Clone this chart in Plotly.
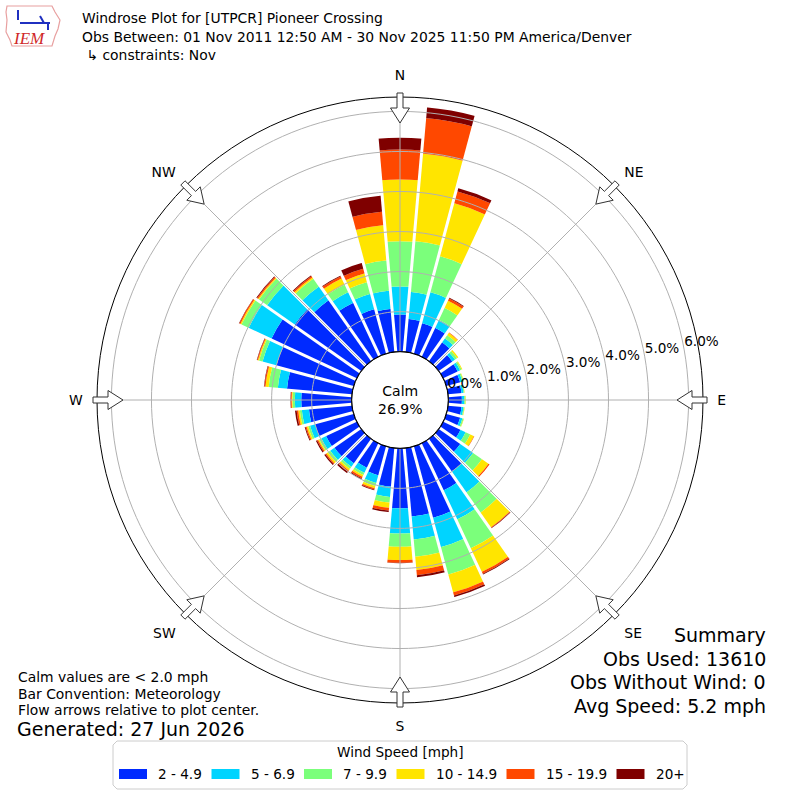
import math
import plotly.graph_objects as go

# wind directions (deg, meteorological) and speed bins
directions = list(range(0, 360, 10))
speed_bins = ["2 - 4.9", "5 - 6.9", "7 - 9.9", "10 - 14.9", "15 - 19.9", "20+"]
bin_colors = ["#002aff", "#00d4ff", "#7bff7b", "#ffe500", "#ff4800", "#7f0000"]

# frequency (%) per direction for each speed bin
pct_2_5 = [0.93, 0.83, 0.79, 0.80, 0.58, 0.42, 0.40, 0.36, 0.34, 0.34, 0.34, 0.36,
           0.48, 0.66, 1.00, 1.30, 1.85, 1.72, 1.50, 0.97, 0.75, 0.68, 0.75, 0.82,
           0.85, 1.00, 1.08, 1.26, 1.63, 2.00, 2.35, 2.03, 1.86, 1.49, 1.15, 1.08]
pct_5_7 = [0.70, 0.68, 0.80, 0.22, 0.12, 0.08, 0.07, 0.06, 0.05, 0.06, 0.05, 0.06,
           0.14, 0.39, 0.64, 0.80, 0.76, 0.58, 0.63, 0.26, 0.20, 0.14, 0.11, 0.13,
           0.13, 0.13, 0.18, 0.16, 0.23, 0.36, 0.63, 0.84, 0.42, 0.29, 0.40, 0.46]
pct_7_10 = [1.13, 1.27, 0.93, 0.33, 0.10, 0.06, 0.04, 0.03, 0.02, 0.03, 0.02, 0.03,
            0.13, 0.27, 0.61, 0.80, 0.71, 0.43, 0.33, 0.14, 0.08, 0.06, 0.06, 0.07,
            0.06, 0.05, 0.05, 0.06, 0.23, 0.09, 0.20, 0.25, 0.24, 0.21, 0.30, 0.76]
pct_10_15 = [1.54, 2.19, 1.37, 0.20, 0.07, 0.04, 0.02, 0.01, 0.01, 0.01, 0.01, 0.01,
             0.10, 0.20, 0.45, 0.65, 0.46, 0.33, 0.33, 0.13, 0.06, 0.05, 0.05, 0.05,
             0.03, 0.04, 0.04, 0.02, 0.08, 0.03, 0.03, 0.03, 0.04, 0.17, 0.23, 0.88]
pct_15_20 = [0.75, 0.89, 0.31, 0.06, 0.01, 0.00, 0.00, 0.00, 0.00, 0.00, 0.00, 0.00,
             0.01, 0.03, 0.02, 0.05, 0.08, 0.13, 0.07, 0.07, 0.03, 0.04, 0.04, 0.03,
             0.03, 0.03, 0.04, 0.02, 0.03, 0.02, 0.03, 0.03, 0.04, 0.06, 0.12, 0.34]
pct_20_up = [0.29, 0.27, 0.08, 0.02, 0.00, 0.00, 0.00, 0.00, 0.00, 0.00, 0.00, 0.00,
             0.00, 0.00, 0.01, 0.02, 0.04, 0.05, 0.01, 0.04, 0.02, 0.03, 0.04, 0.03,
             0.03, 0.02, 0.04, 0.01, 0.01, 0.01, 0.01, 0.02, 0.02, 0.02, 0.15, 0.40]

calm_pct = 26.9
radial_ticks = [0, 1, 2, 3, 4, 5, 6]
compass_angles = [0, 45, 90, 135, 180, 225, 270, 315]
compass_labels = ["N", "NE", "E", "SE", "S", "SW", "W", "NW"]

title_lines = ["Windrose Plot for [UTPCR] Pioneer Crossing",
               "Obs Between: 01 Nov 2011 12:50 AM - 30 Nov 2025 11:50 PM America/Denver",
               " \u21b3 constraints: Nov"]
note_lines = ["Calm values are < 2.0 mph", "Bar Convention: Meteorology",
              "Flow arrows relative to plot center."]
generated = "Generated: 27 Jun 2026"
summary_lines = ["Summary", "Obs Used: 13610", "Obs Without Wind: 0", "Avg Speed: 5.2 mph"]

series = [pct_2_5, pct_5_7, pct_7_10, pct_10_15, pct_15_20, pct_20_up]

R_MAX = 6.36
FONT = "DejaVu Sans"
W = 800.0
RADIUS_PX = 303.0


def px(x, y):
    return x / W, 1 - y / W


def text_note(x, y, text, size, xanchor='left', family=FONT, color='black'):
    X, Y = px(x, y)
    return dict(x=X, y=Y, xref='paper', yref='paper', showarrow=False,
                xanchor=xanchor, yanchor='middle', text=text,
                font=dict(family=family, size=size, color=color))


fig = go.Figure()

for name, color, vals in zip(speed_bins, bin_colors, series):
    fig.add_trace(go.Barpolar(
        r=vals, theta=directions, width=10, name=name,
        marker=dict(color=color, line=dict(width=0)),
        showlegend=False, hoverinfo='skip'
    ))

# white gaps between the direction bars
gap_r, gap_t = [], []
for d in directions:
    gap_r += [0, R_MAX, None]
    gap_t += [d + 5, d + 5, None]
fig.add_trace(go.Scatterpolar(r=gap_r, theta=gap_t, mode='lines',
                              line=dict(color='white', width=3),
                              hoverinfo='skip', showlegend=False))

# grid on top of the bars
circ = [i for i in range(0, 361, 2)]
grid_r, grid_t = [], []
for k in radial_ticks[1:]:
    grid_r += [k] * len(circ) + [None]
    grid_t += circ + [None]
for a in compass_angles:
    grid_r += [0, R_MAX, None]
    grid_t += [a, a, None]
fig.add_trace(go.Scatterpolar(r=grid_r, theta=grid_t, mode='lines',
                              line=dict(color='#b0b0b0', width=1),
                              hoverinfo='skip', showlegend=False))

# calm circle edge
fig.add_trace(go.Scatterpolar(r=[0] * len(circ), theta=circ, mode='lines',
                              line=dict(color='black', width=1.2),
                              cliponaxis=False, hoverinfo='skip', showlegend=False))

# radial tick labels
fig.add_trace(go.Scatterpolar(r=radial_ticks, theta=[80] * len(radial_ticks),
                              mode='text', text=[f"{k:.1f}%" for k in radial_ticks],
                              textposition='top right',
                              textfont=dict(family=FONT, size=13.6, color='black'),
                              cliponaxis=False, hoverinfo='skip', showlegend=False))

fig.update_layout(
    width=800, height=800,
    margin=dict(l=0, r=0, t=0, b=0),
    paper_bgcolor='white',
    showlegend=False,
    polar=dict(
        domain=dict(x=[0.5 - RADIUS_PX / W, 0.5 + RADIUS_PX / W],
                    y=[0.5 - RADIUS_PX / W, 0.5 + RADIUS_PX / W]),
        hole=48.3 / RADIUS_PX,
        bgcolor='white',
        barmode='stack',
        radialaxis=dict(range=[0, R_MAX], showgrid=False, showline=False,
                        showticklabels=False, ticks=''),
        angularaxis=dict(direction='clockwise', rotation=90,
                         tickmode='array', tickvals=compass_angles, ticktext=compass_labels,
                         showgrid=False, showline=True, linecolor='black', linewidth=1,
                         ticks='outside', ticklen=11, tickcolor='rgba(0,0,0,0)',
                         tickfont=dict(family=FONT, size=13.9, color='black')),
    ),
)

# flow arrows at the compass points
shapes = []
arrow_pts = [(307, -3), (292, -3), (292, -9.5), (277, 0), (292, 9.5), (292, 3), (307, 3)]
for a in compass_angles:
    t = math.radians(a)
    ux, uy = math.sin(t), -math.cos(t)
    vx, vy = math.cos(t), math.sin(t)
    path = ""
    for i, (r, s) in enumerate(arrow_pts):
        X, Y = px(400 + r * ux + s * vx, 400 + r * uy + s * vy)
        path += ("M" if i == 0 else "L") + f"{X:.5f},{Y:.5f} "
    shapes.append(dict(type='path', path=path + "Z", xref='paper', yref='paper',
                       fillcolor='white', line=dict(color='#333333', width=1), layer='above'))

annotations = []
annotations.append(dict(x=0.5, y=0.5, xref='paper', yref='paper', showarrow=False,
                        xanchor='center', yanchor='middle',
                        text=f"Calm<br>{calm_pct:.1f}%", align='center',
                        font=dict(family=FONT, size=14, color='black')))

for i, line in enumerate(title_lines):
    annotations.append(text_note(80, 18 + i * 18.5, line, 13.9))

for i, line in enumerate(note_lines):
    annotations.append(text_note(16, 677 + i * 16.5, line, 13.9))
annotations.append(text_note(15, 729, generated, 19))

for i, line in enumerate(summary_lines):
    annotations.append(text_note(768, 635 + i * 23.5, line, 19, xanchor='right'))

# legend box with rounded corners
lx0, ly0, lx1, ly1, rad = 113, 741, 687, 789, 4
corner_pts = [(lx0 + rad, ly0), (lx1 - rad, ly0), (lx1, ly0 + rad), (lx1, ly1 - rad),
              (lx1 - rad, ly1), (lx0 + rad, ly1), (lx0, ly1 - rad), (lx0, ly0 + rad)]
path = ""
for i, (x, y) in enumerate(corner_pts):
    X, Y = px(x, y)
    path += ("M" if i == 0 else "L") + f"{X:.5f},{Y:.5f} "
shapes.append(dict(type='path', path=path + "Z", xref='paper', yref='paper',
                   line=dict(color='#cccccc', width=1), fillcolor='white', layer='above'))
annotations.append(text_note(400, 752, "Wind Speed [mph]", 13.6, xanchor='center'))
legend_x = [119, 211.5, 304, 396.5, 506.5, 616.5]
for lx, name, color in zip(legend_x, speed_bins, bin_colors):
    a0, b0 = px(lx, 779)
    a1, b1 = px(lx + 28, 769)
    shapes.append(dict(type='rect', xref='paper', yref='paper', x0=a0, y0=b0, x1=a1, y1=b1,
                       line=dict(width=0), fillcolor=color, layer='above'))
    annotations.append(text_note(lx + 37, 774, name, 13.6))

# IEM logo (rough)
logo = [(7, 6), (52, 6), (55, 12), (60, 20), (58, 29), (55, 36), (52, 46), (12, 46),
        (10, 40), (6, 32), (7, 20), (6, 12)]
path = ""
for i, (x, y) in enumerate(logo):
    X, Y = px(x, y)
    path += ("M" if i == 0 else "L") + f"{X:.5f},{Y:.5f} "
shapes.append(dict(type='path', path=path + "Z", xref='paper', yref='paper',
                   line=dict(color='#e8a0a0', width=1.2)))
for (xa, ya, xb, yb) in [(20, 23, 43, 23), (40, 16, 44, 23), (43, 23, 50, 23), (48, 23, 48, 30),
                         (18, 10, 18, 20)]:
    A, B = px(xa, ya)
    C, D = px(xb, yb)
    shapes.append(dict(type='line', xref='paper', yref='paper', x0=A, y0=B, x1=C, y1=D,
                       line=dict(color='#2030c0', width=2)))
annotations.append(text_note(29, 39, "<i>IEM</i>", 17, xanchor='center',
                             family="Liberation Serif", color='#d02828'))

fig.update_layout(shapes=shapes, annotations=annotations)

fig.write_html("out.html", config={'displayModeBar': False},
               post_script="document.body.style.margin='0px';")
